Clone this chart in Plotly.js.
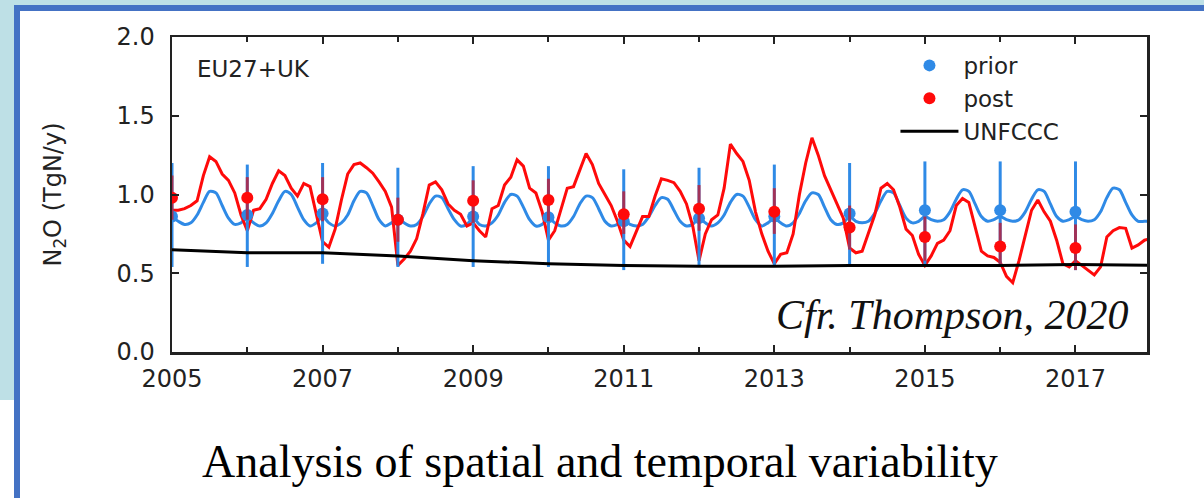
<!DOCTYPE html>
<html>
<head>
<meta charset="utf-8">
<script src="https://cdn.plot.ly/plotly-3.0.1.min.js"></script>
<style>
  html, body { margin: 0; padding: 0; width: 1204px; height: 498px; overflow: hidden; background: #ffffff; }
  #bgband { position: absolute; left: 0; top: 0; width: 1204px; height: 400px; background: #bee0e6; }
  #frame { position: absolute; left: 14px; top: 5px; width: 1250px; height: 600px; border: 6px solid #4472c4; background: #ffffff; box-sizing: border-box; }
  #chart { position: absolute; left: 0; top: 0; width: 1204px; height: 498px; }
</style>
</head>
<body>
<div id="bgband"></div>
<div id="frame"></div>
<div id="chart"></div>
<script>
// ---- data ----
const years = [2005, 2006, 2007, 2008, 2009, 2010, 2011, 2012, 2013, 2014, 2015, 2016, 2017];

// monthly prior flux (TgN/y), Jan..Dec per year, plus Jan 2018
const priorMonthly = [
  0.86, 0.83, 0.81, 0.82, 0.87, 0.95, 1.02, 1.01, 0.93, 0.85, 0.81, 0.82,
  0.85, 0.82, 0.80, 0.82, 0.88, 0.96, 1.02, 1.00, 0.92, 0.84, 0.80, 0.82,
  0.86, 0.82, 0.80, 0.82, 0.87, 0.96, 1.02, 1.01, 0.93, 0.84, 0.80, 0.82,
  0.85, 0.82, 0.80, 0.81, 0.86, 0.94, 0.99, 0.98, 0.91, 0.84, 0.80, 0.81,
  0.85, 0.81, 0.80, 0.82, 0.87, 0.95, 1.00, 0.99, 0.92, 0.84, 0.80, 0.81,
  0.85, 0.82, 0.80, 0.81, 0.86, 0.94, 0.99, 0.98, 0.91, 0.83, 0.80, 0.81,
  0.84, 0.81, 0.80, 0.81, 0.86, 0.93, 0.98, 0.97, 0.90, 0.83, 0.80, 0.81,
  0.85, 0.82, 0.80, 0.82, 0.87, 0.95, 1.00, 0.99, 0.92, 0.84, 0.80, 0.82,
  0.85, 0.82, 0.80, 0.82, 0.88, 0.96, 1.01, 1.00, 0.92, 0.84, 0.81, 0.82,
  0.86, 0.83, 0.82, 0.83, 0.88, 0.96, 1.02, 1.01, 0.93, 0.85, 0.82, 0.83,
  0.86, 0.84, 0.83, 0.84, 0.89, 0.97, 1.03, 1.02, 0.94, 0.86, 0.83, 0.84,
  0.86, 0.84, 0.83, 0.84, 0.89, 0.97, 1.03, 1.02, 0.94, 0.86, 0.83, 0.84,
  0.86, 0.84, 0.83, 0.84, 0.89, 0.98, 1.04, 1.03, 0.95, 0.87, 0.83, 0.83,
  0.83
];

// monthly posterior flux (TgN/y)
const postMonthly = [
  0.90, 0.90, 0.91, 0.93, 0.96, 1.12, 1.24, 1.21, 1.13, 1.09, 1.01, 0.87,
  0.77, 0.90, 0.91, 0.97, 1.07, 1.15, 1.12, 1.04, 0.99, 1.07, 1.05, 0.88,
  0.70, 0.665, 0.78, 0.965, 1.13, 1.19, 1.20, 1.17, 1.135, 1.08, 1.02, 0.92,
  0.55, 0.59, 0.64, 0.72, 0.88, 1.06, 1.08, 1.03, 0.94, 0.90, 0.875, 0.80,
  0.82, 0.77, 0.73, 0.91, 0.93, 1.06, 1.11, 1.22, 1.18, 1.04, 1.01, 0.89,
  0.71, 0.77, 0.90, 1.04, 1.05, 1.15, 1.26, 1.19, 1.07, 1.00, 0.93, 0.83,
  0.71, 0.67, 0.77, 0.86, 0.86, 0.99, 1.10, 1.09, 1.075, 1.02, 0.94, 0.80,
  0.58, 0.75, 0.84, 0.87, 1.04, 1.32, 1.26, 1.21, 1.09, 0.89, 0.75, 0.64,
  0.56, 0.62, 0.63, 0.75, 1.00, 1.20, 1.36, 1.25, 1.12, 1.03, 0.95, 0.85,
  0.66, 0.63, 0.64, 0.75, 0.87, 1.04, 1.07, 1.03, 0.92, 0.78, 0.74, 0.62,
  0.55, 0.61, 0.69, 0.71, 0.77, 0.93, 0.975, 0.95, 0.80, 0.64, 0.61, 0.60,
  0.57, 0.48, 0.44, 0.58, 0.74, 0.90, 0.965, 0.89, 0.83, 0.71, 0.56, 0.54,
  0.58, 0.55, 0.52, 0.49, 0.54, 0.73, 0.77, 0.79, 0.785, 0.66, 0.68, 0.71,
  0.72
];

// annual means with uncertainty ranges
const priorAnnual = [0.86, 0.87, 0.88, 0.84, 0.86, 0.855, 0.83, 0.85, 0.86, 0.88, 0.90, 0.90, 0.89];
const priorHigh   = [1.20, 1.19, 1.20, 1.17, 1.18, 1.18, 1.16, 1.17, 1.19, 1.20, 1.21, 1.21, 1.21];
const priorLow    = [0.54, 0.54, 0.56, 0.54, 0.54, 0.54, 0.52, 0.54, 0.54, 0.55, 0.54, 0.55, 0.52];
const postAnnual  = [0.98, 0.98, 0.97, 0.84, 0.96, 0.965, 0.874, 0.91, 0.89, 0.79, 0.73, 0.67, 0.66];
const postHigh    = [1.12, 1.11, 1.11, 0.98, 1.09, 1.10, 1.02, 1.06, 1.04, 0.93, 0.86, 0.82, 0.81];
const postLow     = [0.84, 0.84, 0.83, 0.70, 0.82, 0.83, 0.75, 0.77, 0.75, 0.65, 0.58, 0.54, 0.52];

// UNFCCC inventory, annual
const unfcccYears  = [2005, 2006, 2007, 2008, 2009, 2010, 2011, 2012, 2013, 2014, 2015, 2016, 2017, 2018];
const unfcccValues = [0.65, 0.63, 0.63, 0.61, 0.58, 0.56, 0.55, 0.545, 0.545, 0.55, 0.55, 0.55, 0.555, 0.55];

const xTickVals  = [2005, 2007, 2009, 2011, 2013, 2015, 2017];
const xTickText  = ['2005', '2007', '2009', '2011', '2013', '2015', '2017'];
const yTickVals  = [0.0, 0.5, 1.0, 1.5, 2.0];
const yTickText  = ['0.0', '0.5', '1.0', '1.5', '2.0'];

// ---- derived time axis for monthly series ----
const monthTimes = [];
years.forEach(function (y) { for (let m = 0; m < 12; m++) monthTimes.push(y + m / 12); });
monthTimes.push(2018);

const BLUE = '#2f8ae6';
const RED = '#ff0a0a';
const FONT = 'DejaVu Sans, Arial, sans-serif';
const SERIF = 'Liberation Serif, Times New Roman, serif';

const traces = [
  { x: monthTimes, y: priorMonthly, mode: 'lines', line: { color: BLUE, width: 3, shape: 'spline', smoothing: 0.8 }, showlegend: false, hoverinfo: 'skip' },
  { x: monthTimes, y: postMonthly, mode: 'lines', line: { color: RED, width: 3 }, showlegend: false, hoverinfo: 'skip' },
  { x: years, y: priorAnnual, name: 'prior', mode: 'markers',
    marker: { color: BLUE, size: 12 },
    error_y: { type: 'data', symmetric: false,
      array: priorHigh.map((h, i) => h - priorAnnual[i]),
      arrayminus: priorLow.map((l, i) => priorAnnual[i] - l),
      color: BLUE, thickness: 3, width: 0 } },
  { x: years, y: postAnnual, name: 'post', mode: 'markers',
    marker: { color: RED, size: 12 },
    error_y: { type: 'data', symmetric: false,
      array: postHigh.map((h, i) => h - postAnnual[i]),
      arrayminus: postLow.map((l, i) => postAnnual[i] - l),
      color: 'rgba(200,20,40,0.75)', thickness: 3, width: 0 } },
  { x: unfcccYears, y: unfcccValues, name: 'UNFCCC', mode: 'lines',
    line: { color: '#000000', width: 3 } }
];

const layout = {
  width: 1204, height: 498,
  margin: { l: 172, r: 57, t: 37, b: 146, pad: 0 },
  paper_bgcolor: 'rgba(0,0,0,0)',
  plot_bgcolor: '#ffffff',
  font: { family: FONT, size: 20, color: '#222222' },
  showlegend: true,
  legend: {
    x: 0.742, y: 0.978, xanchor: 'left', yanchor: 'top', traceorder: 'normal',
    bgcolor: 'rgba(0,0,0,0)', borderwidth: 0,
    font: { family: FONT, size: 23, color: '#222222' },
    itemwidth: 58
  },
  xaxis: {
    range: [2005, 2017.95], tickmode: 'array', tickvals: xTickVals, ticktext: xTickText,
    ticks: 'inside', ticklen: 7, tickwidth: 2, tickcolor: '#222',
    minor: { ticks: 'inside', dtick: 1, tick0: 2005, ticklen: 5, tickwidth: 2, tickcolor: '#222' },
    showline: true, linecolor: '#222', linewidth: 2.5, mirror: 'ticks',
    showgrid: false, zeroline: false, ticklabelstandoff: 4,
    tickfont: { family: FONT, size: 24, color: '#222' }
  },
  yaxis: {
    range: [0, 2], tickmode: 'array', tickvals: yTickVals, ticktext: yTickText,
    ticks: 'inside', ticklen: 7, tickwidth: 2, tickcolor: '#222',
    showline: true, linecolor: '#222', linewidth: 2.5, mirror: 'ticks',
    showgrid: false, zeroline: false, ticklabelstandoff: 10,
    tickfont: { family: FONT, size: 24, color: '#222' },
    title: { text: 'N<sub>2</sub>O (TgN/y)', standoff: 48, font: { family: FONT, size: 24, color: '#222' } }
  },
  annotations: [
    { text: 'EU27+UK', xref: 'paper', yref: 'paper', x: 0.024, y: 0.90, xanchor: 'left', yanchor: 'middle',
      showarrow: false, font: { family: FONT, size: 23, color: '#222' } },
    { text: '<i>Cfr. Thompson, 2020</i>', xref: 'paper', yref: 'paper', x: 0.983, y: 0.118, xanchor: 'right', yanchor: 'middle',
      showarrow: false, font: { family: SERIF, size: 42, color: '#111' } },
    { text: 'Analysis of spatial and temporal variability', xref: 'paper', yref: 'paper', x: 0.439, y: -0.349,
      xanchor: 'center', yanchor: 'middle', showarrow: false,
      font: { family: SERIF, size: 46, color: '#000' } }
  ]
};

Plotly.newPlot('chart', traces, layout, { displayModeBar: false, staticPlot: true });
</script>
</body>
</html>
